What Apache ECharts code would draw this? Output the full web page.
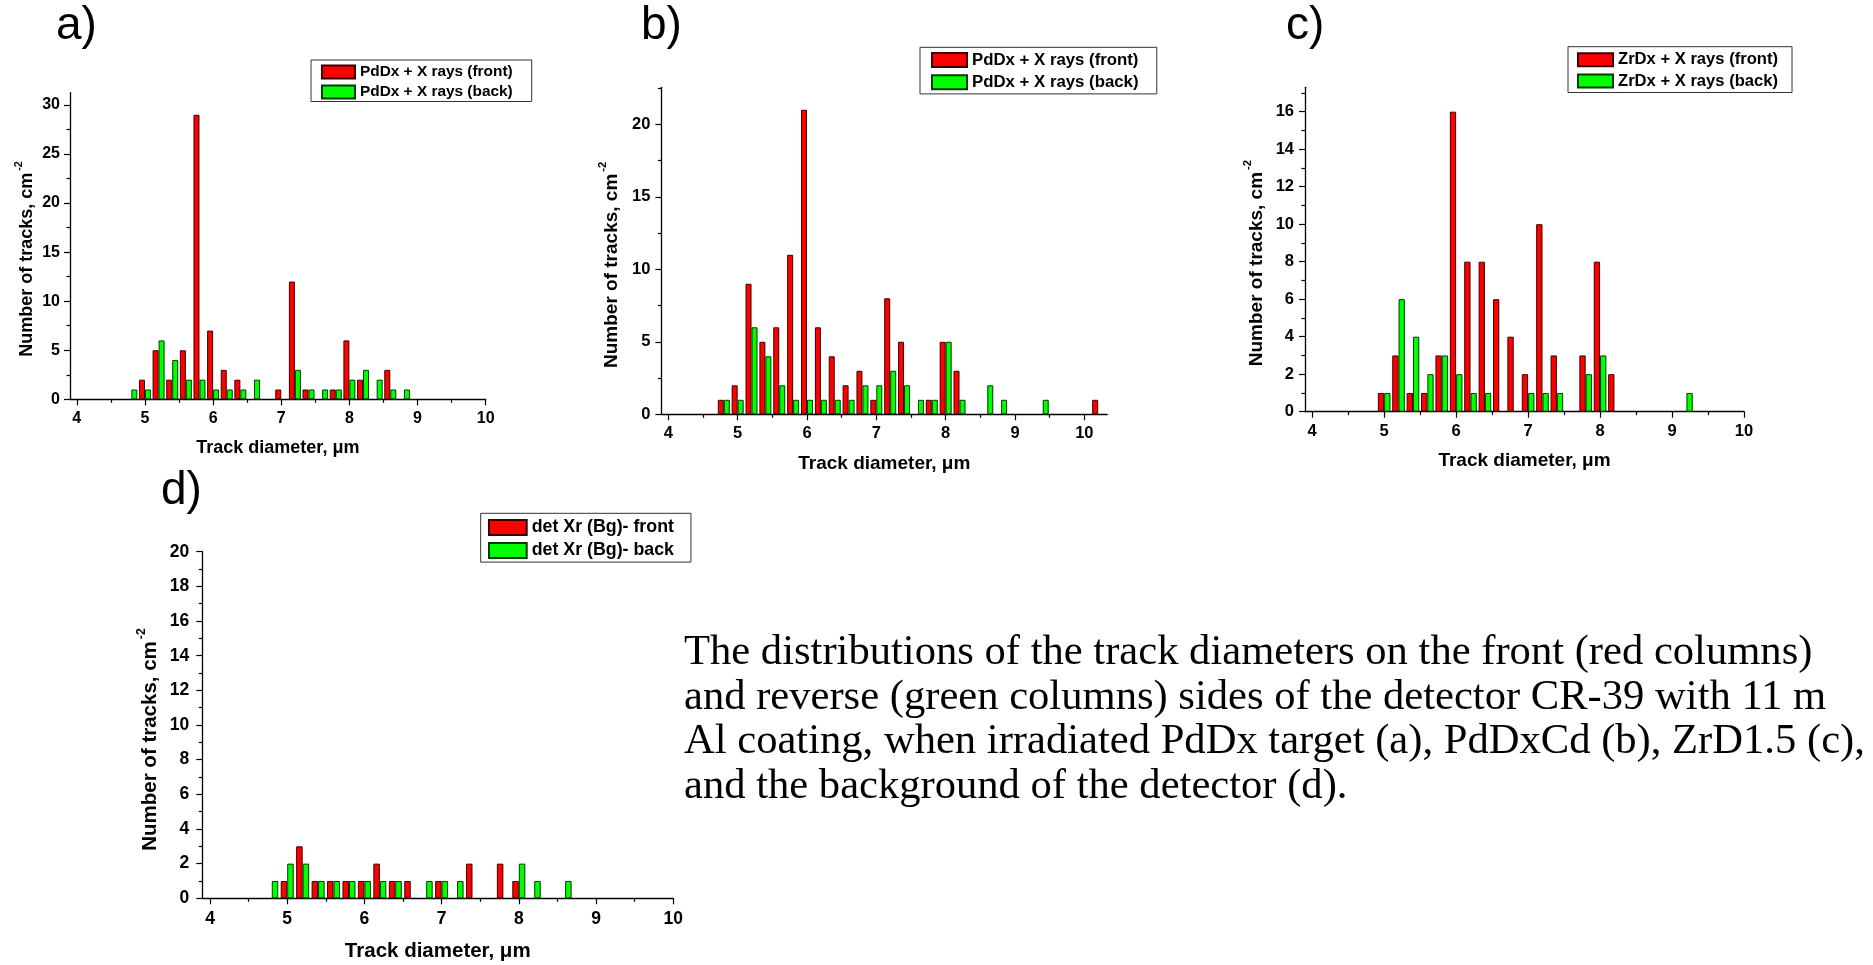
<!DOCTYPE html>
<html>
<head>
<meta charset="utf-8">
<script src="https://cdn.jsdelivr.net/npm/echarts@6/dist/echarts.min.js"></script>
<style>
html,body{margin:0;padding:0;background:#ffffff;}
#chart{width:1873px;height:965px;}
</style>
</head>
<body>
<div id="chart"></div>
<script>
// ---------------- DATA ----------------
// bin centres (µm) and counts
const aFrontX = [5.0, 5.2, 5.4, 5.6, 5.8, 6.0, 6.2, 6.4, 7.0, 7.2, 7.4, 7.8, 8.0, 8.2, 8.6];
const aFrontY = [2, 5, 2, 5, 29, 7, 3, 2, 1, 12, 1, 1, 6, 2, 3];
const aBackX  = [4.8, 5.0, 5.2, 5.4, 5.6, 5.8, 6.0, 6.2, 6.4, 6.6, 7.2, 7.4, 7.6, 7.8, 8.0, 8.2, 8.4, 8.6, 8.8];
const aBackY  = [1, 1, 6, 4, 2, 2, 1, 1, 1, 2, 3, 1, 1, 1, 2, 3, 2, 1, 1];

const bFrontX = [4.8, 5.0, 5.2, 5.4, 5.6, 5.8, 6.0, 6.2, 6.4, 6.6, 6.8, 7.0, 7.2, 7.4, 7.8, 8.0, 8.2, 10.2];
const bFrontY = [1, 2, 9, 5, 6, 11, 21, 6, 4, 2, 3, 1, 8, 5, 1, 5, 3, 1];
const bBackX  = [4.8, 5.0, 5.2, 5.4, 5.6, 5.8, 6.0, 6.2, 6.4, 6.6, 6.8, 7.0, 7.2, 7.4, 7.6, 7.8, 8.0, 8.2, 8.6, 8.8, 9.4];
const bBackY  = [1, 1, 6, 4, 2, 1, 1, 1, 1, 1, 2, 2, 3, 2, 1, 1, 5, 1, 2, 1, 1];

const cFrontX = [5.0, 5.2, 5.4, 5.6, 5.8, 6.0, 6.2, 6.4, 6.6, 6.8, 7.0, 7.2, 7.4, 7.8, 8.0, 8.2];
const cFrontY = [1, 3, 1, 1, 3, 16, 8, 8, 6, 4, 2, 10, 3, 3, 8, 2];
const cBackX  = [5.0, 5.2, 5.4, 5.6, 5.8, 6.0, 6.2, 6.4, 7.0, 7.2, 7.4, 7.8, 8.0, 9.2];
const cBackY  = [1, 6, 4, 2, 3, 2, 1, 1, 1, 1, 1, 2, 3, 1];

const dFrontX = [5.0, 5.2, 5.4, 5.6, 5.8, 6.0, 6.2, 6.4, 6.6, 7.0, 7.4, 7.8, 8.0];
const dFrontY = [1, 3, 1, 1, 1, 1, 2, 1, 1, 1, 2, 2, 1];
const dBackX  = [4.8, 5.0, 5.2, 5.4, 5.6, 5.8, 6.0, 6.2, 6.4, 6.8, 7.0, 7.2, 8.0, 8.2, 8.6];
const dBackY  = [1, 2, 2, 1, 1, 1, 1, 1, 1, 1, 1, 1, 2, 1, 1];

// tick labels
const xMajorTicks = [4, 5, 6, 7, 8, 9, 10];
const xMinorTicks = [4.5, 5.5, 6.5, 7.5, 8.5, 9.5];
const yMajorA = [0, 5, 10, 15, 20, 25, 30];
const yMinorA = [2.5, 7.5, 12.5, 17.5, 22.5, 27.5];
const yMajorB = [0, 5, 10, 15, 20];
const yMinorB = [2.5, 7.5, 12.5, 17.5, 22.5];
const yMajorC = [0, 2, 4, 6, 8, 10, 12, 14, 16];
const yMinorC = [1, 3, 5, 7, 9, 11, 13, 15, 17];
const yMajorD = [0, 2, 4, 6, 8, 10, 12, 14, 16, 18, 20];
const yMinorD = [1, 3, 5, 7, 9, 11, 13, 15, 17, 19];

// texts
const namesA = ['PdDx + X rays (front)', 'PdDx + X rays (back)'];
const namesB = ['PdDx + X rays (front)', 'PdDx + X rays (back)'];
const namesC = ['ZrDx + X rays (front)', 'ZrDx + X rays (back)'];
const namesD = ['det Xr (Bg)- front', 'det Xr (Bg)- back'];
const panelLabels = ['a)', 'b)', 'c)', 'd)'];
const xAxisTitle = 'Track diameter, \u03bcm';
const yAxisTitle = 'Number of tracks, cm';
const yAxisSup = '-2';
const captionLines = [
  'The distributions of the track diameters on the front (red columns)',
  'and reverse (green columns) sides of the detector CR-39 with 11 m',
  'Al coating, when irradiated PdDx target (a), PdDxCd (b), ZrD1.5 (c),',
  'and the background of the detector (d).'
];

// ---------------- LAYOUT / STYLE ----------------
const SANS = '"Liberation Sans", Arial, Helvetica, sans-serif';
const SERIF = '"Liberation Serif", "Times New Roman", Times, serif';
const RED = '#ff0000', RED_BORDER = '#3a0000';
const GREEN = '#00ff00', GREEN_BORDER = '#003a00';

const panels = [
  { front: [aFrontX, aFrontY], back: [aBackX, aBackY], names: namesA, yMajor: yMajorA, yMinor: yMinorA,
    grid: { left: 70, top: 92.7, width: 415.7, height: 306.6 }, xMin: 3.9, xMax: 10, yMax: 31.25,
    barW: 6, tickFs: 16, nameFs: 18, yNameGap: 34, xNameGap: 40, yLabelMargin: 10, xLabelMargin: 11, yNameShift: 26,
    legend: { left: 311, top: 60, padding: [4.5, 19, 2.1, 10], itemWidth: 33, itemHeight: 13, itemGap: 4.9, fs: 15.4 },
    label: { x: 56, base: 42.7 } },
  { front: [bFrontX, bFrontY], back: [bBackX, bBackY], names: namesB, yMajor: yMajorB, yMinor: yMinorB,
    grid: { left: 661.4, top: 87.3, width: 445.8, height: 327 }, xMin: 3.9, xMax: 10.33, yMax: 22.55,
    barW: 6, tickFs: 16.5, nameFs: 19, yNameGap: 40, xNameGap: 40, yLabelMargin: 11, xLabelMargin: 11, yNameShift: 28,
    legend: { left: 920, top: 47.3, padding: [4.3, 18.3, 3.1, 11], itemWidth: 35, itemHeight: 14, itemGap: 5.2, fs: 16.8 },
    label: { x: 641, base: 42.7 } },
  { front: [cFrontX, cFrontY], back: [cBackX, cBackY], names: namesC, yMajor: yMajorC, yMinor: yMinorC,
    grid: { left: 1305, top: 87.3, width: 439, height: 324.4 }, xMin: 3.9, xMax: 10, yMax: 17.3,
    barW: 6.3, tickFs: 16.5, nameFs: 19, yNameGap: 39, xNameGap: 40, yLabelMargin: 11, xLabelMargin: 11, yNameShift: 27,
    legend: { left: 1568, top: 46.7, padding: [4.5, 14, 2.9, 9], itemWidth: 35, itemHeight: 13, itemGap: 4.4, fs: 16.6 },
    label: { x: 1286, base: 42.3 } },
  { front: [dFrontX, dFrontY], back: [dBackX, dBackY], names: namesD, yMajor: yMajorD, yMinor: yMinorD,
    grid: { left: 202.3, top: 551.7, width: 470.9, height: 346.6 }, xMin: 3.9, xMax: 10, yMax: 20,
    barW: 6.5, tickFs: 17.5, nameFs: 20.5, yNameGap: 41, xNameGap: 43, yLabelMargin: 13, xLabelMargin: 12, yNameShift: 29,
    legend: { left: 480.7, top: 513.3, padding: [5.3, 17, 2.6, 7.3], itemWidth: 37.7, itemHeight: 15, itemGap: 4.9, fs: 17.8 },
    label: { x: 161, base: 507.3 } }
];

const LABEL_FS = 46;
const CAPTION = { x: 684, firstBase: 667, lineStep: 44.8, fs: 42.6 };

// ---------------- BUILD OPTION ----------------
const grids = [], xAxes = [], yAxes = [], series = [], legends = [], graphics = [];
const axisLineStyle = { color: '#000', width: 1.3 };

panels.forEach((p, i) => {
  grids.push(Object.assign({ containLabel: false }, p.grid));
  const tickLabel = { color: '#000', fontFamily: SANS, fontWeight: 'bold', fontSize: p.tickFs };

  // main x axis
  xAxes.push({
    type: 'value', gridIndex: i, position: 'bottom', min: p.xMin, max: p.xMax,
    name: xAxisTitle, nameLocation: 'middle', nameGap: p.xNameGap,
    nameTextStyle: { color: '#000', fontFamily: SANS, fontWeight: 'bold', fontSize: p.nameFs },
    axisLine: { show: true, onZero: false, lineStyle: axisLineStyle },
    axisTick: { show: true, length: 6, customValues: xMajorTicks, lineStyle: { color: '#000', width: 1.2 } },
    axisLabel: Object.assign({ show: true, margin: p.xLabelMargin, customValues: xMajorTicks }, tickLabel),
    splitLine: { show: false }
  });
  // minor x ticks
  xAxes.push({
    type: 'value', gridIndex: i, position: 'bottom', min: p.xMin, max: p.xMax,
    axisLine: { show: false, onZero: false },
    axisTick: { show: true, length: 3.5, customValues: xMinorTicks, lineStyle: { color: '#000', width: 1.2 } },
    axisLabel: { show: false, customValues: xMinorTicks },
    splitLine: { show: false }
  });
  // main y axis
  const fs = p.nameFs;
  yAxes.push({
    type: 'value', gridIndex: i, position: 'left', min: 0, max: p.yMax,
    name: '{m|' + yAxisTitle + '}{s|' + yAxisSup + '}',
    nameLocation: 'middle', nameRotate: 90, nameGap: p.yNameGap,
    nameTextStyle: {
      padding: [0, p.yNameShift, 0, 0],
      rich: {
        m: { color: '#000', fontFamily: SANS, fontWeight: 'bold', fontSize: fs, lineHeight: fs * 1.25, verticalAlign: 'bottom' },
        s: { color: '#000', fontFamily: SANS, fontWeight: 'bold', fontSize: fs * 0.6, lineHeight: fs * 1.25, verticalAlign: 'top', padding: [0, 0, 0, 2] }
      }
    },
    axisLine: { show: true, onZero: false, lineStyle: axisLineStyle },
    axisTick: { show: true, length: 6, customValues: p.yMajor, lineStyle: { color: '#000', width: 1.2 } },
    axisLabel: Object.assign({ show: true, margin: p.yLabelMargin, customValues: p.yMajor }, tickLabel),
    splitLine: { show: false }
  });
  // minor y ticks
  yAxes.push({
    type: 'value', gridIndex: i, position: 'left', min: 0, max: p.yMax,
    axisLine: { show: false, onZero: false },
    axisTick: { show: true, length: 3.5, customValues: p.yMinor, lineStyle: { color: '#000', width: 1.2 } },
    axisLabel: { show: false, customValues: p.yMinor },
    splitLine: { show: false }
  });

  const pairs = (xs, ys) => xs.map((x, k) => [x, ys[k]]);
  series.push({
    type: 'bar', name: p.names[0], xAxisIndex: 2 * i, yAxisIndex: 2 * i,
    data: pairs(p.front[0], p.front[1]), barWidth: p.barW, barGap: '0%',
    itemStyle: { color: RED, borderColor: RED_BORDER, borderWidth: 1 }
  });
  series.push({
    type: 'bar', name: p.names[1], xAxisIndex: 2 * i, yAxisIndex: 2 * i,
    data: pairs(p.back[0], p.back[1]), barWidth: p.barW, barGap: '0%',
    itemStyle: { color: GREEN, borderColor: GREEN_BORDER, borderWidth: 1 }
  });

  const L = p.legend;
  legends.push({
    show: true, orient: 'vertical', left: L.left, top: L.top, padding: L.padding,
    itemWidth: L.itemWidth, itemHeight: L.itemHeight, itemGap: L.itemGap,
    icon: 'rect', borderColor: '#333', borderWidth: 1, backgroundColor: '#fff',
    selectedMode: false,
    textStyle: { color: '#000', fontFamily: SANS, fontWeight: 'bold', fontSize: L.fs, padding: [0, 0, 0, 0] },
    data: p.names.slice()
  });

  graphics.push({
    type: 'text', x: p.label.x, y: p.label.base - 0.35 * LABEL_FS, silent: true,
    style: { text: panelLabels[i], fill: '#000', fontFamily: SANS, fontSize: LABEL_FS,
             align: 'left', verticalAlign: 'middle', textAlign: 'left', textVerticalAlign: 'middle' }
  });
});

captionLines.forEach((line, k) => {
  graphics.push({
    type: 'text', x: CAPTION.x, y: CAPTION.firstBase + k * CAPTION.lineStep - 0.3375 * CAPTION.fs, silent: true,
    style: { text: line, fill: '#000', fontFamily: SERIF, fontSize: CAPTION.fs,
             align: 'left', verticalAlign: 'middle', textAlign: 'left', textVerticalAlign: 'middle' }
  });
});

const chart = echarts.init(document.getElementById('chart'), null, { renderer: 'canvas' });
chart.setOption({
  backgroundColor: '#ffffff',
  animation: false,
  grid: grids,
  xAxis: xAxes,
  yAxis: yAxes,
  legend: legends,
  series: series,
  graphic: graphics
});
</script>
</body>
</html>
